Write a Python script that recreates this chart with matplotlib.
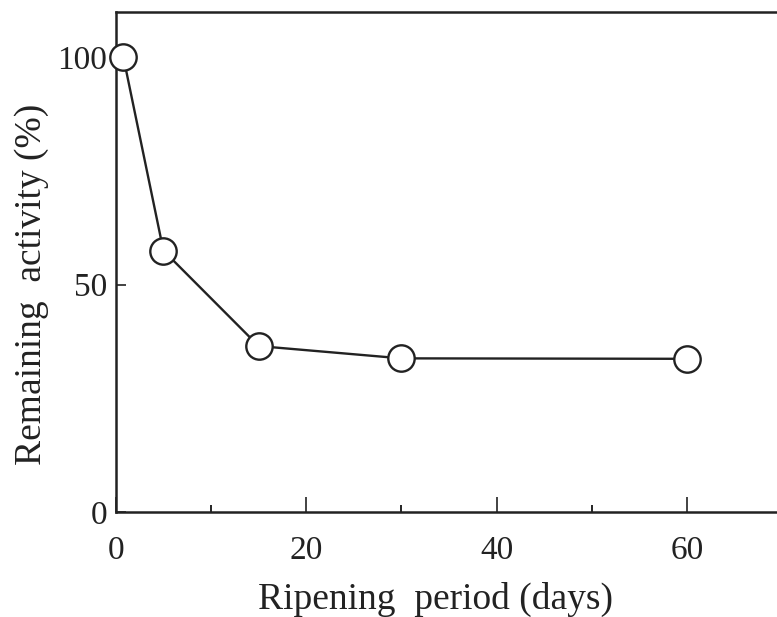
import matplotlib
matplotlib.use("Agg")
import matplotlib.pyplot as plt
from matplotlib.ticker import MultipleLocator

# ripening data
days = [0.8, 5, 15, 30, 60]
activity = [100, 57.5, 36.5, 33.8, 33.7]

x_ticks = [0, 20, 40, 60]
y_ticks = [0, 50, 100]

plt.rcParams['font.family'] = ['Liberation Serif', 'DejaVu Serif']

fig = plt.figure(figsize=(7.77, 6.17), dpi=100)
ax = fig.add_axes([0.149, 0.170, 0.858, 0.811])

ax.plot(days, activity, color='#222222', lw=1.7, marker='o', ms=19,
        mfc='white', mec='#222222', mew=1.7, clip_on=False, zorder=3)

ax.set_xlim(0, 70)
ax.set_ylim(0, 110)
ax.set_xticks(x_ticks)
ax.set_yticks(y_ticks)
ax.xaxis.set_minor_locator(MultipleLocator(10))

ax.spines['right'].set_visible(False)
for s in ['left', 'bottom', 'top']:
    ax.spines[s].set_linewidth(1.8)
    ax.spines[s].set_color('#222222')

ax.tick_params(axis='x', which='major', direction='in', length=11, width=1.2,
               labelsize=24, pad=17, colors='#222222')
ax.tick_params(axis='x', which='minor', direction='in', length=5, width=1.2)
ax.tick_params(axis='y', which='major', direction='in', length=7, width=1.2,
               labelsize=24, pad=6, colors='#222222')

ax.set_xlabel('Ripening  period (days)', fontsize=27, color='#222222')
ax.set_ylabel('Remaining  activity (%)', fontsize=27, color='#222222')
ax.xaxis.set_label_coords(0.48, -0.140)
ax.yaxis.set_label_coords(-0.10, 0.455)

fig.savefig('out.png', dpi=100)
